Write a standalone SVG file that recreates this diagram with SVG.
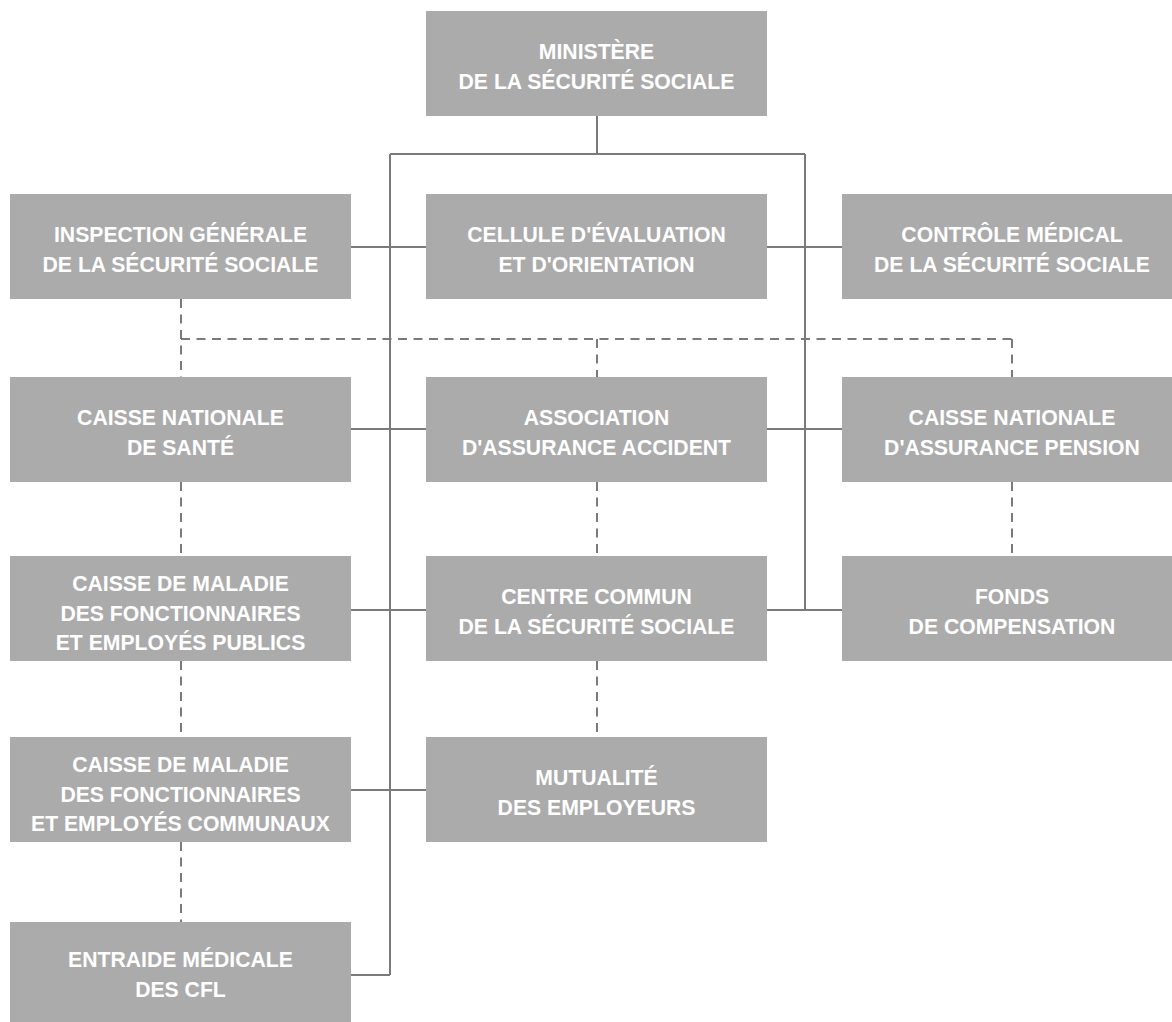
<svg xmlns="http://www.w3.org/2000/svg" width="1172" height="1022" viewBox="0 0 1172 1022">
<style>
.box{fill:#ababab}
.t{font-family:"Liberation Sans",Arial,sans-serif;font-weight:bold;font-size:21.2px;fill:#ffffff;text-anchor:middle}
.s{stroke:#7a7a7a;stroke-width:2;fill:none}
.d{stroke:#7a7a7a;stroke-width:2;fill:none;stroke-dasharray:9 6.5}
</style>
<rect width="1172" height="1022" fill="#ffffff"/>
<g id="connectors">
<path class="s" d="M597 116V154M390 154H805M390 154V975M805 154V610"/>
<path class="s" d="M351 247H426M767 247H842M351 429H426M767 429H842M351 610H426M767 610H842M351 790H426M351 975H390"/>
<path class="d" d="M181 299V377M181 339H1012M597 339V377M1012 339V377"/>
<path class="d" d="M181 482V556M181 661V737M181 842V922M597 482V556M597 661V737M1012 482V556"/>
</g>
<g id="ministere"><rect class="box" x="426" y="11" width="341" height="105"/><text class="t" x="596.5" y="58.5">MINISTÈRE</text><text class="t" x="596.5" y="88.5">DE LA SÉCURITÉ SOCIALE</text></g>
<g id="igss"><rect class="box" x="10" y="194" width="341" height="105"/><text class="t" x="180.5" y="241.5">INSPECTION GÉNÉRALE</text><text class="t" x="180.5" y="271.5">DE LA SÉCURITÉ SOCIALE</text></g>
<g id="ceo"><rect class="box" x="426" y="194" width="341" height="105"/><text class="t" x="596.5" y="241.5">CELLULE D'ÉVALUATION</text><text class="t" x="596.5" y="271.5">ET D'ORIENTATION</text></g>
<g id="cmss"><rect class="box" x="842" y="194" width="330" height="105"/><text class="t" x="1012" y="241.5">CONTRÔLE MÉDICAL</text><text class="t" x="1012" y="271.5">DE LA SÉCURITÉ SOCIALE</text></g>
<g id="cns"><rect class="box" x="10" y="377" width="341" height="105"/><text class="t" x="180.5" y="424.5">CAISSE NATIONALE</text><text class="t" x="180.5" y="454.5">DE SANTÉ</text></g>
<g id="aaa"><rect class="box" x="426" y="377" width="341" height="105"/><text class="t" x="596.5" y="424.5">ASSOCIATION</text><text class="t" x="596.5" y="454.5">D'ASSURANCE ACCIDENT</text></g>
<g id="cnap"><rect class="box" x="842" y="377" width="330" height="105"/><text class="t" x="1012" y="424.5">CAISSE NATIONALE</text><text class="t" x="1012" y="454.5">D'ASSURANCE PENSION</text></g>
<g id="cmfep"><rect class="box" x="10" y="556" width="341" height="105"/><text class="t" x="180.5" y="591">CAISSE DE MALADIE</text><text class="t" x="180.5" y="620.5">DES FONCTIONNAIRES</text><text class="t" x="180.5" y="650">ET EMPLOYÉS PUBLICS</text></g>
<g id="ccss"><rect class="box" x="426" y="556" width="341" height="105"/><text class="t" x="596.5" y="603.5">CENTRE COMMUN</text><text class="t" x="596.5" y="633.5">DE LA SÉCURITÉ SOCIALE</text></g>
<g id="fdc"><rect class="box" x="842" y="556" width="330" height="105"/><text class="t" x="1012" y="603.5">FONDS</text><text class="t" x="1012" y="633.5">DE COMPENSATION</text></g>
<g id="cmfec"><rect class="box" x="10" y="737" width="341" height="105"/><text class="t" x="180.5" y="772">CAISSE DE MALADIE</text><text class="t" x="180.5" y="801.5">DES FONCTIONNAIRES</text><text class="t" x="180.5" y="831">ET EMPLOYÉS COMMUNAUX</text></g>
<g id="mde"><rect class="box" x="426" y="737" width="341" height="105"/><text class="t" x="596.5" y="784.5">MUTUALITÉ</text><text class="t" x="596.5" y="814.5">DES EMPLOYEURS</text></g>
<g id="emcfl"><rect class="box" x="10" y="922" width="341" height="100"/><text class="t" x="180.5" y="967">ENTRAIDE MÉDICALE</text><text class="t" x="180.5" y="997">DES CFL</text></g>
</svg>
